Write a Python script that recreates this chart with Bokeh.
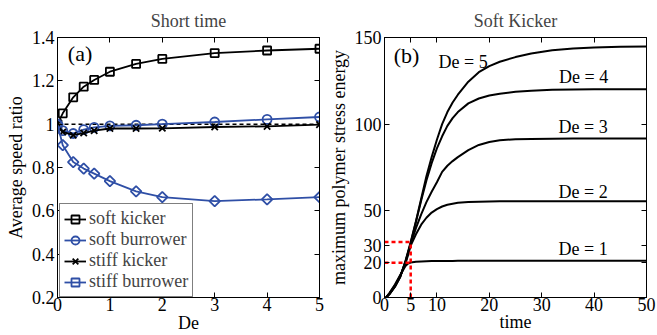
from bokeh.plotting import figure
from bokeh.models import LinearAxis, FixedTicker, Legend, LegendItem, Range1d
from bokeh.layouts import row
from bokeh.embed import file_html
from bokeh.resources import INLINE
from bokeh.core.properties import value

FONT = "Liberation Serif"
FS = "18px"
BLUE = "#2f4fa6"

# ---------------- data: panel (a) ----------------
de = [0, 0.1, 0.3, 0.5, 0.7, 1, 1.5, 2, 3, 4, 5]
soft_kicker = [1.0, 1.050, 1.124, 1.173, 1.204, 1.242, 1.278, 1.301, 1.328, 1.340, 1.348]
soft_burrower = [1.0, 0.970, 0.957, 0.975, 0.985, 0.992, 0.995, 1.000, 1.010, 1.022, 1.033]
stiff_kicker = [1.0, 0.964, 0.949, 0.959, 0.970, 0.980, 0.980, 0.981, 0.987, 0.990, 0.998]
stiff_burrower = [1.0, 0.903, 0.825, 0.795, 0.772, 0.737, 0.690, 0.663, 0.645, 0.653, 0.663]
ref_ratio = 1.0
a_xticks = [0, 1, 2, 3, 4, 5]
a_yticks = [0.2, 0.4, 0.6, 0.8, 1, 1.2, 1.4]
a_ylabels = {0.2: "0.2", 0.4: "0.4", 0.6: "0.6", 0.8: "0.8", 1: "1", 1.2: "1.2", 1.4: "1.4"}

# ---------------- data: panel (b) ----------------
t = [0.3, 1, 2, 3, 4, 4.5, 5, 6, 7, 8, 9, 10, 11, 12, 13, 14, 16, 18, 20, 22, 25, 28, 32, 36, 40, 45, 50]
e_de1 = [0, 2.8, 7.5, 13.0, 18.2, 19.6, 20.2, 20.6, 20.8, 20.9, 21.0, 21.05, 21.1, 21.1, 21.1, 21.15, 21.2,
         21.2, 21.2, 21.2, 21.2, 21.2, 21.2, 21.2, 21.2, 21.2, 21.2]
e_de2 = [0, 2.5, 7.0, 12.5, 19.5, 24.5, 30.0, 36.5, 42.0, 46.0, 49.0, 51.0, 52.5, 53.5, 54.1, 54.6, 55.1,
         55.3, 55.4, 55.5, 55.5, 55.5, 55.5, 55.5, 55.5, 55.5, 55.5]
e_de3 = [0, 2.3, 6.6, 12.2, 20.3, 25.5, 31.0, 40.0, 48.0, 55.0, 61.0, 66.5, 72.5, 76.0, 78.7, 81.0, 85.0,
         88.0, 89.7, 90.7, 91.3, 91.5, 91.6, 91.7, 91.7, 91.7, 91.7]
e_de4 = [0, 2.2, 6.4, 12.0, 20.8, 26.0, 31.5, 43.5, 56.0, 67.5, 77.5, 86.0, 93.0, 99.0, 103.5, 107.0, 112.0,
         114.8, 116.5, 117.6, 118.7, 119.3, 119.8, 120.0, 120.1, 120.2, 120.2]
e_de5 = [0, 2.1, 6.2, 11.8, 21.0, 26.5, 32.0, 44.0, 57.0, 70.0, 81.0, 91.0, 100.0, 107.0, 112.5, 117.0, 124.5,
         130.0, 133.5, 136.0, 138.7, 140.8, 142.6, 143.6, 144.2, 144.6, 144.8]
curve_names = ["De = 1", "De = 2", "De = 3", "De = 4", "De = 5"]
ref_time = 5
ref_levels = [20, 32]
b_xticks = [0, 5, 10, 20, 30, 40, 50]
b_yticks = [0, 20, 30, 50, 100, 150]

# label positions (data coords)
lab_t = [37.9, 37.9, 37.9, 38.0, 15.0]
lab_v = [27.7, 61.1, 98.4, 127.5, 135.7]


def style_axes(p, xticks, yticks, xlabel, ylabel, ylabels=None, xlab_standoff=-2):
    p.xgrid.grid_line_color = None
    p.ygrid.grid_line_color = None
    p.outline_line_color = "black"
    p.outline_line_width = 1
    p.background_fill_color = "white"
    p.border_fill_color = "white"
    for ax, ticks, lab in ((p.xaxis[0], xticks, xlabel), (p.yaxis[0], yticks, ylabel)):
        ax.ticker = FixedTicker(ticks=ticks)
        ax.axis_label = lab
        ax.axis_label_text_font = FONT
        ax.axis_label_text_font_size = FS
        ax.axis_label_text_font_style = "normal"
        ax.axis_label_text_color = "black"
        ax.major_label_text_font = FONT
        ax.major_label_text_font_size = FS
        ax.major_label_text_color = "black"
        ax.major_tick_in = 5
        ax.major_tick_out = 0
        ax.minor_tick_in = 0
        ax.minor_tick_out = 0
        ax.axis_line_color = "black"
        ax.major_tick_line_color = "black"
    p.xaxis[0].major_label_standoff = 0
    p.xaxis[0].axis_label_standoff = xlab_standoff
    p.yaxis[0].major_label_standoff = 3
    p.yaxis[0].axis_label_standoff = 3
    if ylabels:
        p.yaxis[0].major_label_overrides = ylabels
    for side, ticks in (("above", xticks), ("right", yticks)):
        ax = LinearAxis(ticker=FixedTicker(ticks=ticks), major_label_text_font_size="1px",
                        major_label_text_color=None,
                        major_tick_in=5, major_tick_out=0, minor_tick_in=0, minor_tick_out=0,
                        major_label_standoff=0, axis_line_color="black", major_tick_line_color="black")
        p.add_layout(ax, side)
    p.title.text_font = FONT
    p.title.text_font_size = FS
    p.title.text_font_style = "normal"
    p.title.align = "center"
    p.title.standoff = 14


H = 335

# ---------------- panel (a) ----------------
p1 = figure(width=324, height=H, x_range=Range1d(0, 5), y_range=Range1d(0.2, 1.4),
            output_backend="svg", toolbar_location=None, title="Short time",
            min_border_left=57, min_border_right=5, min_border_top=37, min_border_bottom=38)
style_axes(p1, a_xticks, a_yticks, "De", "Average speed ratio", a_ylabels, -1)

p1.line([de[0], de[-1]], [ref_ratio, ref_ratio], line_color="black", line_width=1.5, line_dash="4 3")

series = [
    ("soft kicker", soft_kicker, "black", "square", 0, 8),
    ("soft burrower", soft_burrower, BLUE, "circle", 0, 9),
    ("stiff kicker", stiff_kicker, "black", "x", 0, 9),
    ("stiff burrower", stiff_burrower, BLUE, "square", 0.785398, 7.5),
]
items = []
for name, ys, col, mk, ang, sz in series:
    l = p1.line(de, ys, line_color=col, line_width=1.8)
    s = p1.scatter(de, ys, marker=mk, angle=ang, size=sz, line_color=col, line_width=1.8, fill_color=None)
    items.append(LegendItem(label=name, renderers=[l, s]))

leg = Legend(items=items, location=(2, 0), margin=0, padding=4, spacing=0,
             label_text_font=FONT, label_text_font_size=FS, label_standoff=3,
             glyph_width=22, glyph_height=20, label_height=20,
             border_line_color="black", border_line_width=1.5, background_fill_alpha=1.0)
p1.add_layout(leg)

p1.text(x=[0.43], y=[1.328], text=["(a)"], text_font=value(FONT), text_font_size="22px",
        text_align="center", text_baseline="middle")

# ---------------- panel (b) ----------------
p2 = figure(width=333, height=H, x_range=Range1d(0, 50), y_range=Range1d(0, 150),
            output_backend="svg", toolbar_location=None, title="Soft Kicker",
            min_border_left=60, min_border_right=11, min_border_top=37, min_border_bottom=37)
style_axes(p2, b_xticks, b_yticks, "time", "maximum polymer stress energy", None, -2)

for ys in (e_de1, e_de2, e_de3, e_de4, e_de5):
    p2.line(t, ys, line_color="black", line_width=2)

for lev in ref_levels:
    p2.line([0, ref_time], [lev, lev], line_color="#ff0000", line_width=2.5, line_dash="4 3")
p2.line([ref_time, ref_time], [0, max(ref_levels)], line_color="#ff0000", line_width=2.5, line_dash="4 3")

p2.text(x=lab_t, y=lab_v, text=curve_names, text_font=value(FONT), text_font_size=FS,
        text_align="center", text_baseline="middle")
p2.text(x=[4.2], y=[139.5], text=["(b)"], text_font=value(FONT), text_font_size="22px",
        text_align="center", text_baseline="middle")

layout = row(p1, p2, spacing=0)
open("out.html", "w").write(file_html(layout, INLINE))
